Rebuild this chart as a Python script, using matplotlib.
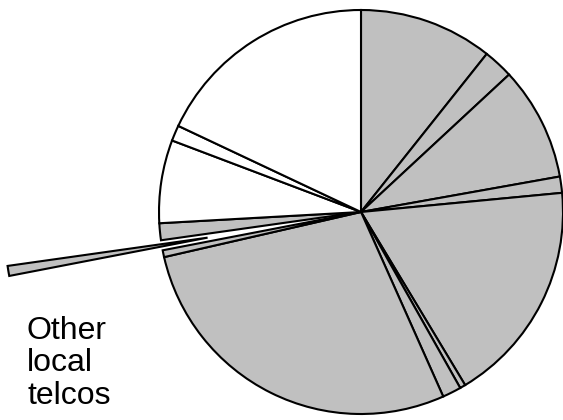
import matplotlib
matplotlib.use("Agg")
import matplotlib.pyplot as plt

# slice shares (percent), clockwise from 12 o'clock
shares = [10.7, 2.4, 9.1, 1.3, 17.9, 0.45, 1.5, 28.1, 0.55, 0.8, 1.35, 6.65, 1.25, 18.0]
fills = ['#c0c0c0'] * 11 + ['white'] * 3
explode = [0, 0, 0, 0, 0, 0, 0, 0, 0, 0.77, 0, 0, 0, 0]
note = "Other\nlocal\ntelcos"

W, H = 563, 420
fig = plt.figure(figsize=(W / 100, H / 100), dpi=100)

# pie centre (361, 212) px, radius 202 px
cx, cy, r = 361, 212, 202
ax = fig.add_axes([(cx - r) / W, (H - cy - r) / H, 2 * r / W, 2 * r / H])
ax.pie(shares, colors=fills, explode=explode, startangle=90, counterclock=False,
       wedgeprops=dict(edgecolor='black', linewidth=1.5))
ax.set_xlim(-1, 1)
ax.set_ylim(-1, 1)
ax.set_aspect('equal')
ax.axis('off')

fig.text(27 / W, 1 - 316 / H, note, ha='left', va='top', fontsize=23,
         family=['Liberation Sans', 'DejaVu Sans'], linespacing=1.1)

fig.savefig("out.png", dpi=100)
